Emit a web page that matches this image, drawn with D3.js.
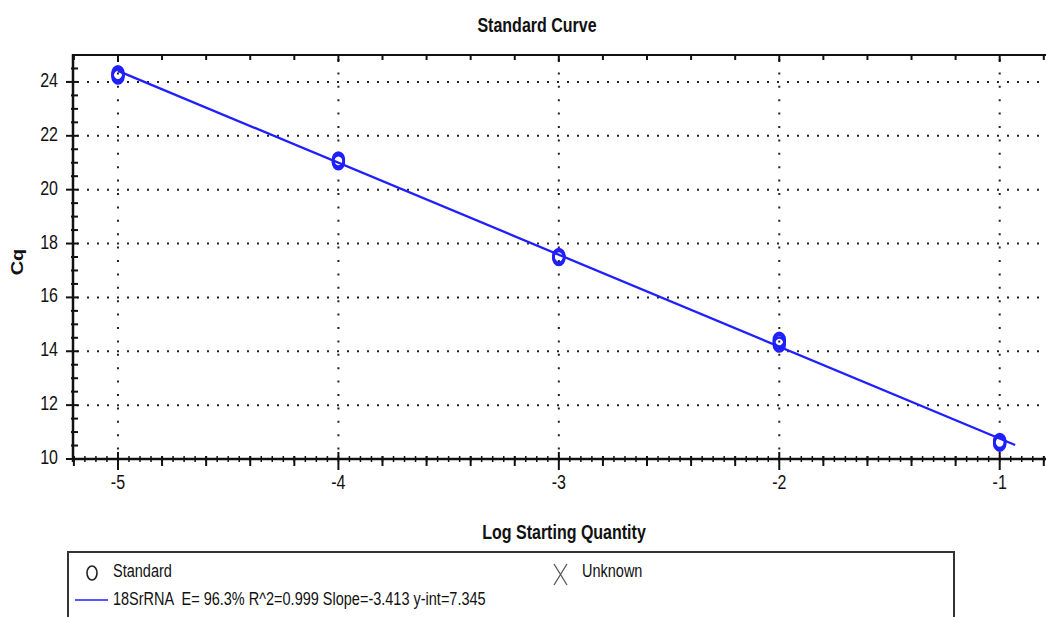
<!DOCTYPE html>
<html>
<head>
<meta charset="utf-8">
<script src="https://cdn.jsdelivr.net/npm/d3@7"></script>
<style>
  html, body { margin: 0; padding: 0; background: #fff; }
  svg { display: block; font-family: "Liberation Sans", Arial, sans-serif; }
  text { white-space: pre; }
</style>
</head>
<body>
<div id="chart"></div>
<script>
/* ---- data ---------------------------------------------------------- */
const logQty = [-5, -4, -3, -2, -1];
const cqRep1 = [24.20, 21.02, 17.46, 14.25, 10.57];
const cqRep2 = [24.32, 21.12, 17.54, 14.43, 10.67];
const cqRep3 = [24.26, 21.06, 17.50, 14.34, 10.62];
const fitX   = [-5, -0.93];
const fitCq  = [24.41, 10.52];
const xTicks = [-5, -4, -3, -2, -1];
const yTicks = [10, 12, 14, 16, 18, 20, 22, 24];
const legendFit = "18SrRNA  E= 96.3% R^2=0.999 Slope=-3.413 y-int=7.345";

/* ---- layout ---------------------------------------------------------- */
const W = 1046, H = 617;
const plot = { left: 73, right: 1046, top: 55, bottom: 459 };
const STRETCH = 1.25;               // text in the source is drawn tall & narrow
const BLUE = "#1f1fff";

const svg = d3.select("#chart").append("svg")
  .attr("width", W).attr("height", H);

const x = d3.scaleLinear().domain([-5.204, -0.79]).range([plot.left, plot.right]);
const y = d3.scaleLinear().domain([10, 25]).range([plot.bottom, plot.top]);

// text helper: tall, narrow text like the original
const label = (px, py, txt, size, opt = {}) =>
  svg.append("text")
    .attr("transform", `translate(${px},${py}) ${opt.rotate ? "rotate(-90) scale(" + STRETCH + ",1)" : "scale(1," + STRETCH + ")"}`)
    .attr("text-anchor", opt.anchor || "start")
    .attr("font-size", size)
    .attr("font-weight", opt.bold ? "bold" : "normal")
    .attr("fill", "#111")
    .text(txt);

/* ---- dotted grid ----------------------------------------------------- */
svg.append("g").selectAll("line")
  .data(xTicks)
  .join("line")
    .attr("x1", d => x(d)).attr("x2", d => x(d))
    .attr("y1", plot.top + 4).attr("y2", plot.bottom)
    .attr("stroke", "#222").attr("stroke-width", 2)
    .attr("stroke-dasharray", "2,11.4");

svg.append("g").selectAll("line")
  .data(yTicks.filter(d => d > 10))
  .join("line")
    .attr("x1", plot.left + 4).attr("x2", plot.right)
    .attr("y1", d => y(d)).attr("y2", d => y(d))
    .attr("stroke", "#222").attr("stroke-width", 2)
    .attr("stroke-dasharray", "2,8");

/* ---- axes ------------------------------------------------------------ */
const axisG = svg.append("g").attr("stroke", "#111");
// frame lines
axisG.append("line").attr("x1", plot.left).attr("x2", plot.right)
  .attr("y1", plot.top).attr("y2", plot.top).attr("stroke-width", 2);
axisG.append("line").attr("x1", plot.left).attr("x2", plot.right)
  .attr("y1", plot.bottom).attr("y2", plot.bottom).attr("stroke-width", 2.5);
axisG.append("line").attr("x1", plot.left).attr("x2", plot.left)
  .attr("y1", plot.top - 1).attr("y2", plot.bottom + 3).attr("stroke-width", 2.5);

const xMid   = d3.range(-5.2, -0.78, 0.2).filter(v => Math.abs(v - Math.round(v)) > 1e-6);
const xMinor = d3.range(-5.2, -0.78, 0.05);
const yMinor = d3.range(10.5, 25, 0.5).filter(v => v % 2 !== 0);

// bottom axis ticks
axisG.append("g").selectAll("line").data(xMinor).join("line")
  .attr("x1", d => x(d)).attr("x2", d => x(d))
  .attr("y1", plot.bottom - 3).attr("y2", plot.bottom + 3).attr("stroke-width", 1.5);
axisG.append("g").selectAll("line").data(xMid).join("line")
  .attr("x1", d => x(d)).attr("x2", d => x(d))
  .attr("y1", plot.bottom - 3).attr("y2", plot.bottom + 7).attr("stroke-width", 2);
axisG.append("g").selectAll("line").data(xTicks).join("line")
  .attr("x1", d => x(d)).attr("x2", d => x(d))
  .attr("y1", plot.bottom - 7).attr("y2", plot.bottom + 11).attr("stroke-width", 2);

// top axis ticks
axisG.append("g").selectAll("line").data(xMid).join("line")
  .attr("x1", d => x(d)).attr("x2", d => x(d))
  .attr("y1", plot.top).attr("y2", plot.top + 5).attr("stroke-width", 2);
axisG.append("g").selectAll("line").data(xTicks).join("line")
  .attr("x1", d => x(d)).attr("x2", d => x(d))
  .attr("y1", plot.top).attr("y2", plot.top + 7).attr("stroke-width", 2);

// left axis ticks
axisG.append("g").selectAll("line").data(yMinor).join("line")
  .attr("x1", plot.left - 2).attr("x2", plot.left + 5)
  .attr("y1", d => y(d)).attr("y2", d => y(d)).attr("stroke-width", 2);
axisG.append("g").selectAll("line").data(yTicks).join("line")
  .attr("x1", plot.left - 7).attr("x2", plot.left + 5)
  .attr("y1", d => y(d)).attr("y2", d => y(d)).attr("stroke-width", 2);

// tick labels (plain hyphen minus, as in the original)
yTicks.forEach(v => label(58, y(v) + 5, String(v), 16, { anchor: "end" }));
xTicks.forEach(v => label(x(v), 489, String(v), 16, { anchor: "middle" }));

/* ---- titles ---------------------------------------------------------- */
label(537, 32, "Standard Curve", 16, { anchor: "middle", bold: true });
label(564, 539, "Log Starting Quantity", 16, { anchor: "middle", bold: true });
label(23, 262, "Cq", 16, { anchor: "middle", bold: true, rotate: true });

/* ---- fit line and standards ----------------------------------------- */
svg.append("line")
  .attr("x1", x(fitX[0])).attr("y1", y(fitCq[0]))
  .attr("x2", x(fitX[1])).attr("y2", y(fitCq[1]))
  .attr("stroke", BLUE).attr("stroke-width", 2.3);

const pts = [cqRep1, cqRep2, cqRep3].flatMap(rep => rep.map((cq, i) => ({ lq: logQty[i], cq })));
svg.append("g").selectAll("ellipse")
  .data(pts)
  .join("ellipse")
    .attr("cx", d => x(d.lq))
    .attr("cy", d => y(d.cq))
    .attr("rx", 5.5).attr("ry", 7)
    .attr("fill", "none")
    .attr("stroke", BLUE).attr("stroke-width", 2.5);

/* ---- legend ---------------------------------------------------------- */
const lg = svg.append("g");
lg.append("rect")
  .attr("x", 68).attr("y", 552).attr("width", 886).attr("height", 90)
  .attr("fill", "#fff").attr("stroke", "#333").attr("stroke-width", 2);

lg.append("ellipse").attr("cx", 92).attr("cy", 573).attr("rx", 5).attr("ry", 7)
  .attr("fill", "none").attr("stroke", "#222").attr("stroke-width", 1.6);
label(113, 577, "Standard", 14.5);

lg.append("path").attr("d", "M554,564 L567,585 M567,564 L554,585")
  .attr("stroke", "#555").attr("stroke-width", 1.3).attr("fill", "none");
label(582, 577, "Unknown", 14.5);

lg.append("line").attr("x1", 75).attr("x2", 108).attr("y1", 600).attr("y2", 600)
  .attr("stroke", BLUE).attr("stroke-width", 1.5);
label(113, 605, legendFit, 14.5);
</script>
</body>
</html>
